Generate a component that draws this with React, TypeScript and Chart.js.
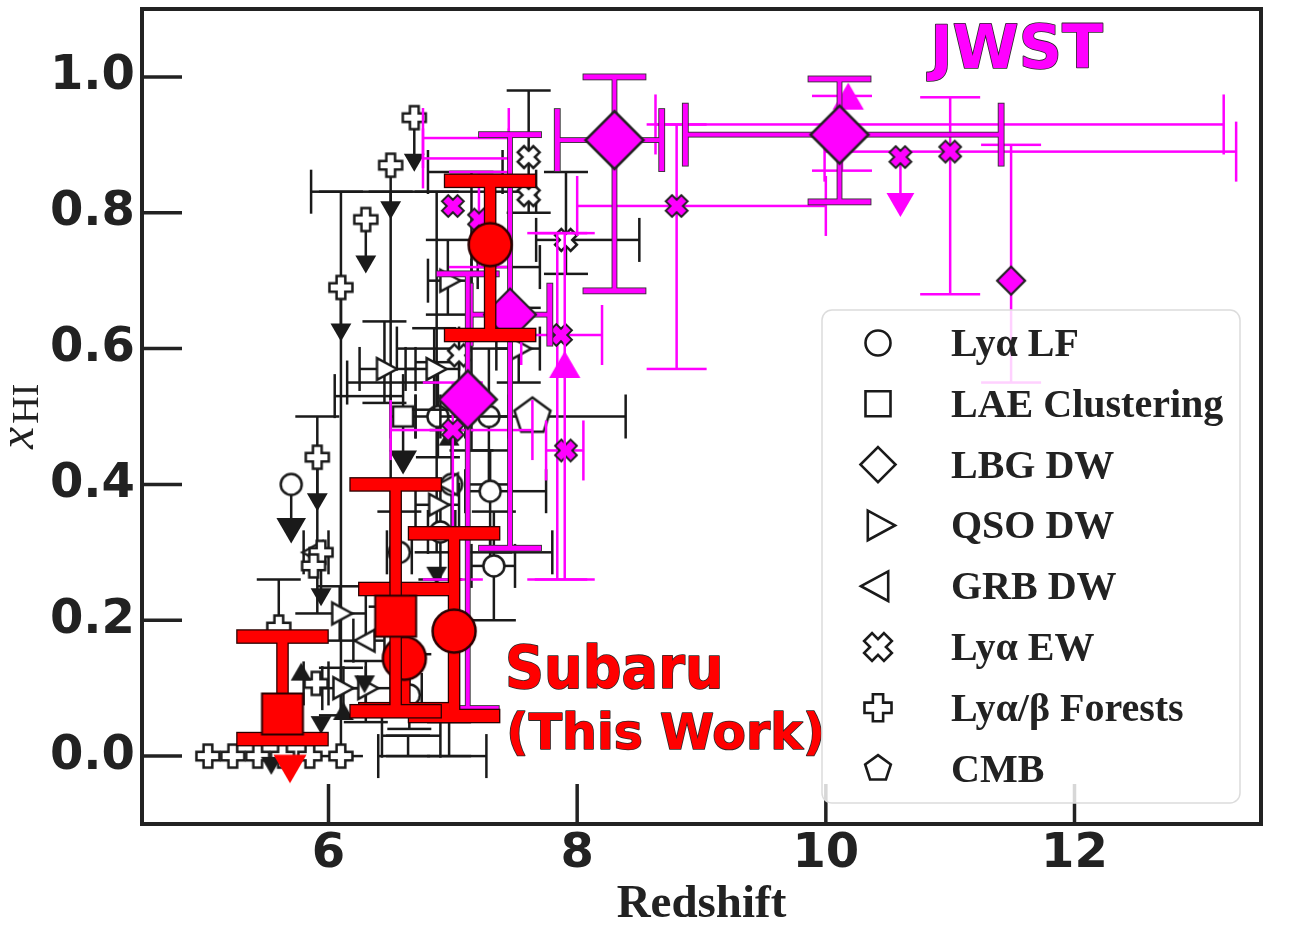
import React, { useEffect, useRef } from "react";
import { Chart, registerables } from "chart.js";

Chart.register(...registerables);

const W = 1292;
const H = 928;

const xTicks = [6, 8, 10, 12];
const yTicks = [0.0, 0.2, 0.4, 0.6, 0.8, 1.0];
const xLimits = [4.5, 13.5];
const yLimits = [-0.1, 1.1];

// rows: [redshift, xHI, zLow, zHigh, xHILow, xHIHigh, limit (-1 upper, 1 lower, 0 none)]
type Row = (number | null)[];
const N = null;

// ---------- literature (black) ----------
const lyaLF: Row[] = [
  [5.70, 0.40, N, N, N, N, -1],
  [6.57, 0.30, 6.47, 6.67, 0.24, 0.36, 0],
  [6.90, 0.33, 6.80, 7.02, 0.26, 0.40, 0],
  [6.65, 0.09, 6.55, 6.75, 0.04, 0.15, 0],
  [6.88, 0.50, 6.70, 7.05, 0.44, 0.58, 0],
  [7.29, 0.50, 7.10, 7.45, 0.40, 0.60, 0],
  [6.99, 0.40, N, N, 0.32, 0.48, 0],
  [7.30, 0.39, 7.10, 7.75, 0.30, 0.45, 0],
  [7.33, 0.28, 7.15, 7.50, 0.20, 0.36, 0],
];
const laeClustering: Row[] = [
  [6.60, 0.50, 6.50, 6.70, N, N, -1],
];
const qsoDW: Row[] = [
  [6.45, 0.57, 6.25, 6.70, 0.52, 0.64, 0],
  [6.85, 0.57, 6.62, 7.05, 0.51, 0.63, 0],
  [6.09, 0.21, N, 6.30, 0.17, 0.25, 0],
  [6.10, 0.10, 5.95, 6.30, 0.06, 0.13, 0],
  [6.30, 0.10, 6.12, 6.50, 0.05, 0.14, 0],
  [6.87, 0.37, 6.70, 7.05, N, N, 0],
  [7.53, 0.60, 7.35, 7.70, 0.55, 0.66, 0],
  [6.96, 0.70, 6.80, 7.15, 0.65, 0.76, 0],
];
const grbDW: Row[] = [
  [6.31, 0.17, 6.20, 6.45, N, N, 0],
  [5.89, 0.30, 5.80, 6.00, N, N, 0],
  [6.98, 0.40, N, N, N, N, 0],
];
const lyaEW: Row[] = [
  [7.61, 0.882, N, N, 0.80, 0.98, 0],
  [7.61, 0.826, N, N, N, N, 0],
  [7.91, 0.76, 7.67, 8.50, 0.71, 0.86, 0],
  [7.05, 0.59, N, N, N, N, 0],
];
const forests: Row[] = [
  [6.69, 0.94, N, N, N, N, -1],
  [6.50, 0.87, N, N, N, N, -1],
  [6.30, 0.79, N, N, N, N, -1],
  [6.10, 0.69, N, N, N, N, -1],
  [5.91, 0.44, N, N, N, N, -1],
  [5.94, 0.30, N, N, N, N, -1],
  [5.88, 0.28, N, N, N, N, 0],
  [5.60, 0.19, N, N, 0.17, 0.26, 0],
  [5.90, 0.107, 5.80, 6.00, N, N, 0],
  [5.03, 0.0, N, N, N, N, 0],
  [5.23, 0.0, N, N, N, N, 0],
  [5.43, 0.0, N, N, N, N, 0],
  [5.63, 0.0, N, N, N, N, 0],
  [5.85, 0.0, N, N, N, N, 0],
  [6.10, 0.0, N, N, N, N, 0],
];
const cmb: Row[] = [
  [7.64, 0.50, 6.90, 8.39, N, N, 0],
];
const blackUpLimits: Row[] = [
  [6.97, 0.466, N, N, N, N, 0],
  [6.12, 0.062, N, N, N, N, 0],
  [5.78, 0.12, N, N, N, N, 0],
];
const blackDownLimits: Row[] = [
  [6.87, 0.27, N, N, N, N, 0],
  [5.54, -0.01, N, N, N, N, 0],
  [6.29, 0.11, N, N, N, N, 0],
  [5.94, 0.05, N, N, N, N, 0],
];
const otherBars: Row[] = [
  [6.80, 0.831, 5.86, 7.67, N, N, 0],
  [6.10, 0.40, N, N, 0.0, 0.831, 0],
  [6.87, 0.55, N, N, 0.30, 0.831, 0],
  [6.50, 0.55, N, N, 0.22, 0.831, 0],
  [6.85, 0.0, 6.40, 7.27, N, N, 0],
  [6.66, 0.03, 6.43, 6.90, N, N, 0],
  [6.97, 0.025, N, N, 0.0, 0.05, 0],
  [6.64, 0.015, N, N, 0.0, 0.03, 0],
  [6.55, 0.55, 6.15, 6.85, N, N, 0],
  [6.75, 0.60, 6.55, 7.05, N, N, 0],
  [6.30, 0.53, 6.05, 6.60, N, N, 0],
  [7.05, 0.86, 6.80, 7.40, N, N, 0],
  [7.45, 0.72, 7.20, 7.70, N, N, 0],
  [7.15, 0.70, N, N, 0.45, 0.86, 0],
  [5.91, 0.30, N, N, 0.21, 0.50, 0],
  [7.55, 0.30, 7.30, 7.80, N, N, 0],
];

// ---------- JWST (magenta) ----------
const jwstLBG: Row[] = [
  [8.30, 0.907, 7.84, 8.68, 0.685, 1.0, 0],
  [10.11, 0.915, 8.87, 11.41, 0.816, 0.997, 0],
  [7.12, 0.525, N, N, 0.07, 0.71, 0],
];
const jwstLBGMid: Row[] = [
  [7.46, 0.65, 7.14, 7.78, 0.306, 0.915, 0],
];
const jwstLBGSmall: Row[] = [
  [11.49, 0.70, N, N, 0.55, 0.90, 0],
];
const jwstEW: Row[] = [
  [8.80, 0.81, 8.00, 10.00, 0.57, 0.93, 0],
  [10.60, 0.882, N, N, N, N, -1],
  [11.00, 0.89, 9.99, 13.30, 0.68, 0.97, 0],
  [7.00, 0.81, N, N, N, N, 0],
  [7.21, 0.79, N, N, 0.72, 0.86, 0],
  [7.87, 0.62, 7.55, 8.20, N, N, 0],
  [7.91, 0.45, 7.75, 8.05, N, N, 0],
  [7.00, 0.48, 6.50, 7.64, 0.26, 0.55, 0],
];
const jwstLower: Row[] = [
  [7.90, 0.57, N, N, 0.26, 0.77, 0],
  [10.18, 0.965, N, N, N, N, 0],
];
const jwstBars: Row[] = [
  [10.10, 0.93, 8.63, 13.20, N, N, 0],
  [7.10, 0.91, 6.76, 7.45, N, N, 0],
  [7.10, 0.88, 6.76, 7.45, N, N, 0],
  [10.13, 0.917, N, N, 0.862, 0.972, 0],
  [7.84, 0.52, N, N, 0.26, 0.77, 0],
];

// ---------- Subaru, this work (red) ----------
const subaruCircles: Row[] = [
  [7.30, 0.753, N, N, 0.62, 0.847, 0],
  [7.01, 0.184, N, N, 0.059, 0.328, 0],
  [6.61, 0.144, N, N, 0.069, 0.246, 0],
];
const subaruSquares: Row[] = [
  [6.54, 0.206, N, N, 0.066, 0.40, 0],
  [5.63, 0.062, N, N, 0.025, 0.176, 0],
];
const subaruLimits: Row[] = [
  [5.69, -0.012, N, N, N, N, 0],
];

const legendLabels = ["Lyα LF", "LAE Clustering", "LBG DW", "QSO DW", "GRB DW", "Lyα EW", "Lyα/β Forests", "CMB"];
const legendShapes = ["circle", "square", "diamond", "triR", "triL", "x", "plus", "pent"];
const jwstLabel = { text: "JWST", x: 10.84, y: 1.013 };
const subaruLabel = { text: "Subaru", x: 7.42, y: 0.10 };
const thisWorkLabel = { text: "(This Work)", x: 7.43, y: 0.011 };

const RED = "#ff0000";
const MAG = "#ff00ff";
const INK = "#1a1a1a";

function shapePath(g: CanvasRenderingContext2D, shape: string, r: number) {
  g.beginPath();
  const plus = (L: number, w: number, rot: number) => {
    const pts = [
      [-w, -L], [w, -L], [w, -w], [L, -w], [L, w], [w, w], [w, L], [-w, L], [-w, w], [-L, w], [-L, -w], [-w, -w],
    ];
    const c = Math.cos(rot), s = Math.sin(rot);
    pts.forEach(([px, py], i) => {
      const X = px * c - py * s, Y = px * s + py * c;
      if (i === 0) g.moveTo(X, Y); else g.lineTo(X, Y);
    });
    g.closePath();
  };
  switch (shape) {
    case "circle": g.arc(0, 0, r, 0, Math.PI * 2); break;
    case "square": g.rect(-r, -r, 2 * r, 2 * r); break;
    case "diamond": g.moveTo(0, -r); g.lineTo(r, 0); g.lineTo(0, r); g.lineTo(-r, 0); g.closePath(); break;
    case "triR": g.moveTo(r, 0); g.lineTo(-0.6 * r, -0.87 * r); g.lineTo(-0.6 * r, 0.87 * r); g.closePath(); break;
    case "triL": g.moveTo(-r, 0); g.lineTo(0.6 * r, -0.87 * r); g.lineTo(0.6 * r, 0.87 * r); g.closePath(); break;
    case "triU": g.moveTo(0, -r); g.lineTo(0.87 * r, 0.5 * r); g.lineTo(-0.87 * r, 0.5 * r); g.closePath(); break;
    case "triD": g.moveTo(0, r); g.lineTo(0.87 * r, -0.5 * r); g.lineTo(-0.87 * r, -0.5 * r); g.closePath(); break;
    case "plus": plus(r, r * 0.38, 0); break;
    case "x": plus(r, r * 0.4, Math.PI / 4); break;
    case "pent":
      for (let i = 0; i < 5; i++) {
        const a = -Math.PI / 2 + (i * 2 * Math.PI) / 5;
        if (i === 0) g.moveTo(r * Math.cos(a), r * Math.sin(a)); else g.lineTo(r * Math.cos(a), r * Math.sin(a));
      }
      g.closePath();
      break;
  }
}

function marker(shape: string, r: number, fill: string, stroke: string | null, lw: number) {
  let s = Math.ceil(2 * r + 2 * lw + 6);
  if (s % 2) s += 1;
  const c = document.createElement("canvas");
  c.width = s; c.height = s;
  const g = c.getContext("2d")!;
  g.translate(s / 2, s / 2);
  shapePath(g, shape, r);
  g.fillStyle = fill; g.fill();
  if (stroke) { g.lineWidth = lw; g.strokeStyle = stroke; g.lineJoin = "miter"; g.stroke(); }
  return c;
}

type BarStyle = { color: string; lw: number; capLw: number; cap: number; edge?: string; edgeW?: number };
type Arrow = { len: number; size: number; color: string; lw: number };

function drawBarsAndArrows(chart: any, ds: any) {
  const { ctx, chartArea: a } = chart;
  const xs = chart.scales.x, ys = chart.scales.y;
  const st: BarStyle | undefined = ds.barStyle;
  const arrow: Arrow | undefined = ds.arrow;
  ctx.save();
  ctx.beginPath(); ctx.rect(a.left, a.top, a.right - a.left, a.bottom - a.top); ctx.clip();
  if (st) {
    const rects: number[][] = [];
    for (const r of ds.rows as Row[]) {
      const [x, y, xlo, xhi, ylo, yhi] = r as number[];
      const px = xs.getPixelForValue(x), py = ys.getPixelForValue(y);
      if (xlo != null || xhi != null) {
        const p1 = xs.getPixelForValue(xlo != null ? xlo : x), p2 = xs.getPixelForValue(xhi != null ? xhi : x);
        rects.push([p1, py - st.lw / 2, p2 - p1, st.lw]);
        if (xlo != null) rects.push([p1 - st.capLw / 2, py - st.cap, st.capLw, 2 * st.cap]);
        if (xhi != null) rects.push([p2 - st.capLw / 2, py - st.cap, st.capLw, 2 * st.cap]);
      }
      if (ylo != null || yhi != null) {
        const q1 = ys.getPixelForValue(yhi != null ? yhi : y), q2 = ys.getPixelForValue(ylo != null ? ylo : y);
        rects.push([px - st.lw / 2, q1, st.lw, q2 - q1]);
        if (yhi != null) rects.push([px - st.cap, q1 - st.capLw / 2, 2 * st.cap, st.capLw]);
        if (ylo != null) rects.push([px - st.cap, q2 - st.capLw / 2, 2 * st.cap, st.capLw]);
      }
    }
    if (st.edge) {
      ctx.strokeStyle = st.edge; ctx.lineWidth = (st.edgeW || 1) * 2; ctx.lineJoin = "miter";
      rects.forEach((q) => ctx.strokeRect(q[0], q[1], q[2], q[3]));
    }
    ctx.fillStyle = st.color;
    rects.forEach((q) => ctx.fillRect(q[0], q[1], q[2], q[3]));
  }
  if (arrow) {
    for (const r of ds.rows as Row[]) {
      const lim = r[6] as number;
      if (!lim) continue;
      const px = xs.getPixelForValue(r[0]), py = ys.getPixelForValue(r[1]);
      const end = py - lim * arrow.len;
      ctx.fillStyle = arrow.color;
      ctx.fillRect(px - arrow.lw / 2, Math.min(py, end), arrow.lw, Math.abs(end - py));
      ctx.save();
      ctx.translate(px, end);
      shapePath(ctx, lim < 0 ? "triD" : "triU", arrow.size);
      ctx.fill();
      ctx.restore();
    }
  }
  ctx.restore();
}

const barsPlugin = {
  id: "errbars",
  beforeDatasetDraw(chart: any, args: any) {
    const ds = chart.data.datasets[args.index];
    if (ds && ds.rows) drawBarsAndArrows(chart, ds);
  },
};

const decorPlugin = {
  id: "decor",
  afterDatasetsDraw(chart: any) {
    const { ctx, chartArea: a } = chart;
    const xs = chart.scales.x, ys = chart.scales.y;
    ctx.save();
    // inward ticks
    ctx.strokeStyle = "#222"; ctx.lineWidth = 3.5;
    xs.ticks.forEach((t: any) => {
      const p = xs.getPixelForValue(t.value);
      ctx.beginPath(); ctx.moveTo(p, a.bottom); ctx.lineTo(p, a.bottom - 40); ctx.stroke();
    });
    ys.ticks.forEach((t: any) => {
      const p = ys.getPixelForValue(t.value);
      ctx.beginPath(); ctx.moveTo(a.left, p); ctx.lineTo(a.left + 40, p); ctx.stroke();
    });
    // frame
    ctx.lineWidth = 4; ctx.strokeStyle = "#222";
    ctx.strokeRect(a.left, a.top, a.right - a.left, a.bottom - a.top);

    // annotations
    const outlined = (text: string, x: number, y: number, font: string, color: string, sx: number) => {
      ctx.save();
      ctx.translate(x, y); ctx.scale(sx, 1);
      ctx.font = font; ctx.textAlign = "left"; ctx.textBaseline = "alphabetic";
      ctx.lineJoin = "round";
      ctx.strokeStyle = "#2a2a2a"; ctx.lineWidth = 1.6; ctx.strokeText(text, 0, 0);
      ctx.fillStyle = color; ctx.fillText(text, 0, 0);
      ctx.restore();
    };
    outlined(jwstLabel.text, xs.getPixelForValue(jwstLabel.x), ys.getPixelForValue(jwstLabel.y), "bold 60px 'DejaVu Sans'", MAG, 1);
    outlined(subaruLabel.text, xs.getPixelForValue(subaruLabel.x), ys.getPixelForValue(subaruLabel.y), "bold 58px 'DejaVu Sans'", RED, 0.935);
    outlined(thisWorkLabel.text, xs.getPixelForValue(thisWorkLabel.x), ys.getPixelForValue(thisWorkLabel.y), "bold 49px 'DejaVu Sans'", RED, 1);

    // legend
    const lx1 = a.right - 439, ly1 = a.top + 301, lx2 = a.right - 21, ly2 = a.bottom - 21;
    ctx.beginPath();
    (ctx as any).roundRect(lx1, ly1, lx2 - lx1, ly2 - ly1, 10);
    ctx.fillStyle = "rgba(255,255,255,0.82)"; ctx.fill();
    ctx.strokeStyle = "#dcdcdc"; ctx.lineWidth = 1.5; ctx.stroke();
    const sizes: Record<string, number> = { circle: 12.5, square: 12.5, diamond: 17.5, triR: 17, triL: 17, x: 14, plus: 13.5, pent: 13.5 };
    legendLabels.forEach((lab, i) => {
      const cy = ly1 + 33 + i * 60.8;
      const cx = lx1 + 56;
      ctx.save();
      ctx.translate(cx, cy);
      shapePath(ctx, legendShapes[i], sizes[legendShapes[i]]);
      ctx.fillStyle = "#fff"; ctx.fill();
      ctx.lineWidth = 2.6; ctx.strokeStyle = INK; ctx.lineJoin = "miter"; ctx.stroke();
      ctx.restore();
      ctx.font = "bold 40px 'Liberation Serif'"; ctx.fillStyle = "#222"; ctx.textAlign = "left"; ctx.textBaseline = "alphabetic";
      ctx.fillText(lab, lx1 + 129, cy + 13);
    });

    // axis titles
    ctx.fillStyle = "#222";
    ctx.font = "bold 47px 'Liberation Serif'"; ctx.textAlign = "center";
    ctx.fillText("Redshift", (a.left + a.right) / 2, 917);
    ctx.save();
    ctx.translate(33, 449);
    ctx.rotate(-Math.PI / 2);
    ctx.textAlign = "left";
    ctx.font = "italic 50px 'Liberation Serif'";
    ctx.fillText("x", 0, 0);
    const wx = ctx.measureText("x").width;
    ctx.font = "38px 'Liberation Serif'";
    ctx.fillText("HI", wx + 3, 5);
    ctx.restore();
    ctx.restore();
  },
};

function ds(rows: Row[], o: { img?: HTMLCanvasElement; bar?: BarStyle; arrow?: Arrow; order: number }) {
  return {
    type: "scatter",
    data: rows.map((r) => ({ x: r[0], y: r[1] })),
    rows,
    barStyle: o.bar,
    arrow: o.arrow,
    pointStyle: o.img || "circle",
    pointRadius: o.img ? 8 : 0,
    pointHoverRadius: o.img ? 8 : 0,
    order: o.order,
  } as any;
}

const noPad = (s: any) => {
  s.paddingTop = 0; s.paddingBottom = 0; s.paddingLeft = 0; s.paddingRight = 0;
};

export default function App() {
  const ref = useRef<HTMLCanvasElement | null>(null);
  useEffect(() => {
    document.body.style.margin = "0";
    const canvas = ref.current!;
    const blackBar: BarStyle = { color: INK, lw: 2.5, capLw: 2.5, cap: 22 };
    const blackArrow = (size: number): Arrow => ({ len: 42, size, color: INK, lw: 2.5 });
    const magThick: BarStyle = { color: MAG, lw: 4, capLw: 5, cap: 31, edge: "#333", edgeW: 0.9 };
    const magThin: BarStyle = { color: MAG, lw: 2.5, capLw: 2.5, cap: 30 };
    const redBar: BarStyle = { color: RED, lw: 10, capLw: 12, cap: 45, edge: "#2a0000", edgeW: 1.3 };

    const datasets = [
      ds(otherBars, { bar: blackBar, order: 30 }),
      ds(lyaLF, { img: marker("circle", 10.5, "#fff", INK, 2.5), bar: blackBar, arrow: blackArrow(17), order: 29 }),
      ds(laeClustering, { img: marker("square", 10, "#fff", INK, 2.5), bar: blackBar, arrow: blackArrow(16), order: 28 }),
      ds(qsoDW, { img: marker("triR", 12.5, "#fff", INK, 2.5), bar: blackBar, order: 27 }),
      ds(grbDW, { img: marker("triL", 12.5, "#fff", INK, 2.5), bar: blackBar, order: 26 }),
      ds(cmb, { img: marker("pent", 19, "#fff", INK, 2.5), bar: blackBar, order: 25 }),
      ds(lyaEW, { img: marker("x", 11, "#fff", INK, 2.5), bar: blackBar, order: 24 }),
      ds(forests, { img: marker("plus", 11.5, "#fff", INK, 2.5), bar: blackBar, arrow: blackArrow(12), order: 23 }),
      ds(blackUpLimits, { img: marker("triU", 12, INK, null, 0), order: 22 }),
      ds(blackDownLimits, { img: marker("triD", 12, INK, null, 0), order: 21 }),
      ds(jwstBars, { bar: magThin, order: 15 }),
      ds(jwstEW, { img: marker("x", 11, MAG, "#222", 2), bar: magThin, arrow: { len: 44, size: 16, color: MAG, lw: 2.5 }, order: 14 }),
      ds(jwstLower, { img: marker("triU", 18, MAG, null, 0), bar: magThin, order: 13 }),
      ds(jwstLBGSmall, { img: marker("diamond", 14, MAG, "#222", 2.2), bar: magThin, order: 12 }),
      ds(jwstLBGMid, { img: marker("diamond", 26, MAG, "#222", 2.2), bar: magThick, order: 11 }),
      ds(jwstLBG, { img: marker("diamond", 29, MAG, "#222", 2.5), bar: magThick, order: 10 }),
      ds(subaruLimits, { img: marker("triD", 19, RED, null, 0), order: 3 }),
      ds(subaruCircles, { img: marker("circle", 21.5, RED, "#2a0000", 2.5), bar: redBar, order: 2 }),
      ds(subaruSquares, { img: marker("square", 20.5, RED, "#2a0000", 2), bar: redBar, order: 1 }),
    ];

    const tickFont = { family: "'DejaVu Sans'", size: 48, weight: "bold" as const };
    const chart = new Chart(canvas, {
      type: "scatter",
      data: { datasets },
      plugins: [barsPlugin, decorPlugin],
      options: {
        responsive: false,
        animation: false,
        events: [],
        layout: { padding: { left: 0, right: 31, top: 6, bottom: 0 } },
        plugins: { legend: { display: false }, tooltip: { enabled: false } },
        scales: {
          x: {
            type: "linear",
            min: xLimits[0],
            max: xLimits[1],
            grid: { display: false, drawTicks: false },
            border: { display: false },
            ticks: { font: tickFont, color: "#222", padding: 2, maxRotation: 0, autoSkip: false, callback: (v: any) => String(v) },
            afterBuildTicks: (s: any) => { s.ticks = xTicks.map((v) => ({ value: v })); },
            afterFit: (s: any) => { s.height = H - 824; noPad(s); },
          },
          y: {
            type: "linear",
            min: yLimits[0],
            max: yLimits[1],
            grid: { display: false, drawTicks: false },
            border: { display: false },
            ticks: { font: tickFont, color: "#222", padding: 7, autoSkip: false, callback: (v: any) => Number(v).toFixed(1) },
            afterBuildTicks: (s: any) => { s.ticks = yTicks.map((v) => ({ value: v })); },
            afterFit: (s: any) => { s.width = 142; noPad(s); },
          },
        },
      } as any,
    });
    return () => chart.destroy();
  }, []);
  return <canvas ref={ref} width={W} height={H} style={{ display: "block" }} />;
}
